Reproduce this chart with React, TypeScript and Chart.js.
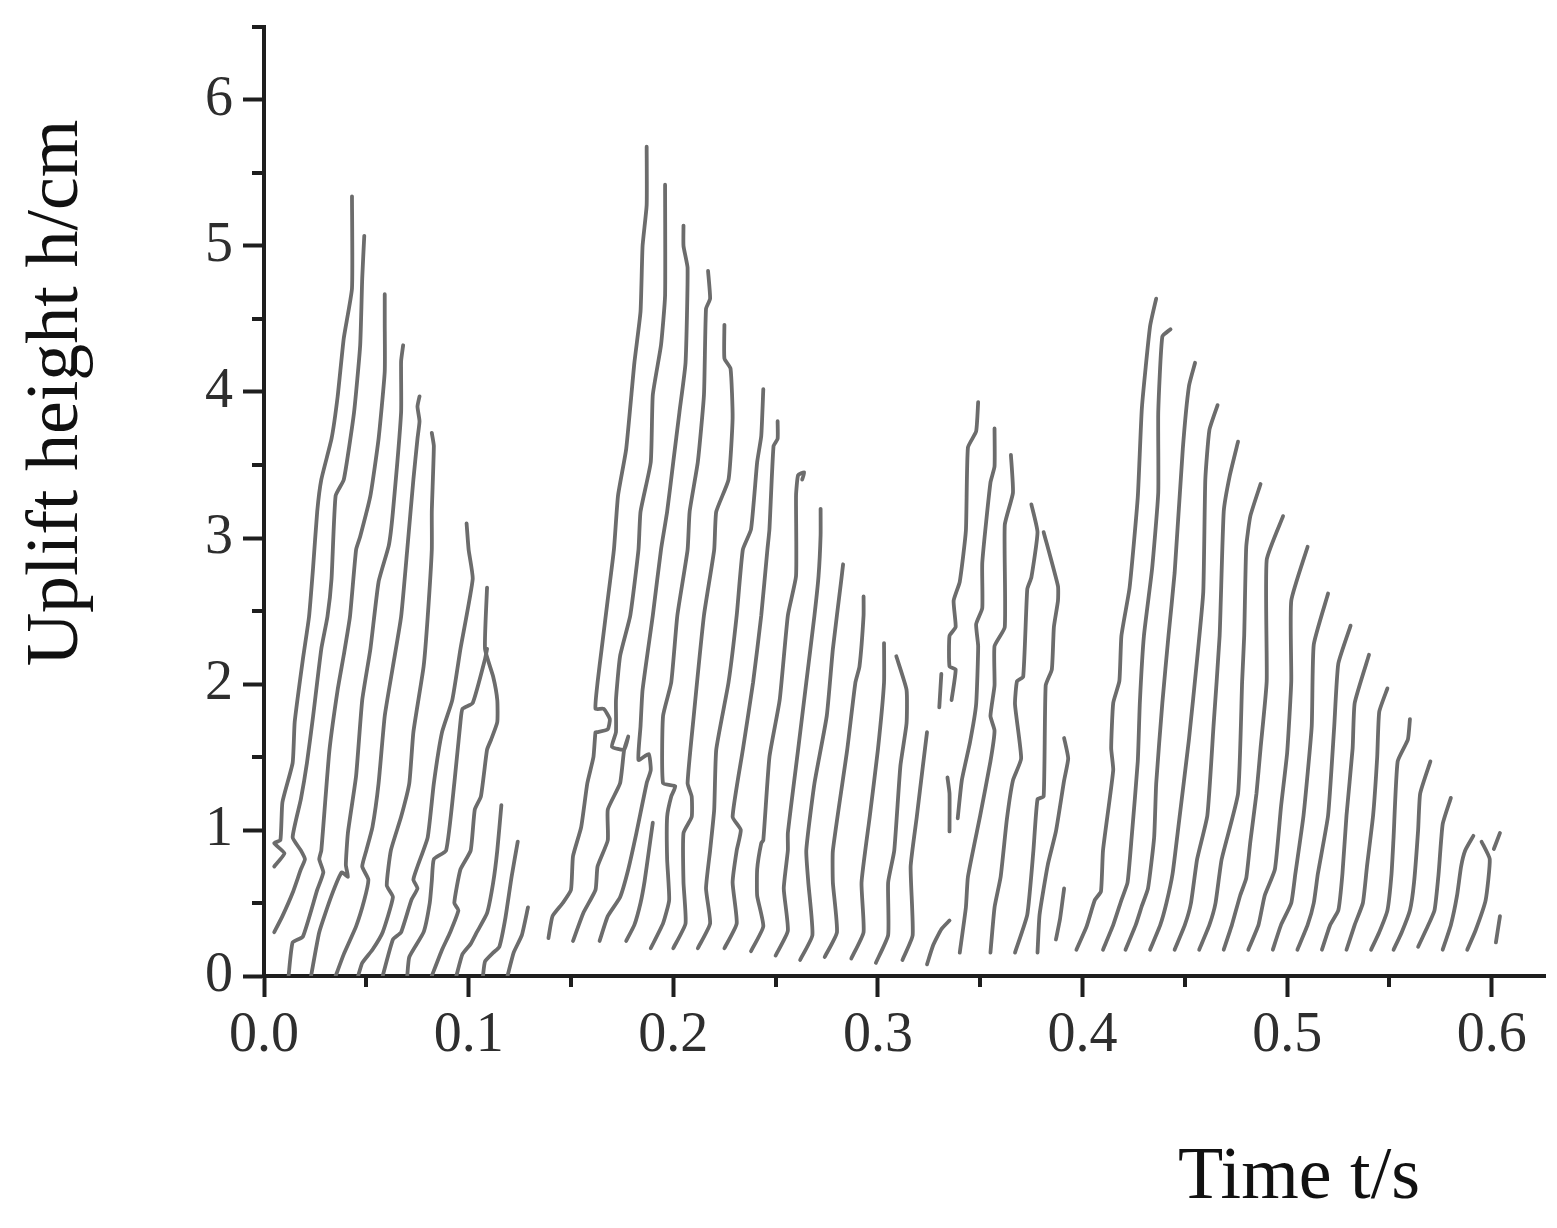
import React, { useEffect, useRef } from 'react';
import { Chart, registerables } from 'chart.js';

Chart.register(...registerables);

// ---------------- data ----------------
const xTickLabels = ['0.0', '0.1', '0.2', '0.3', '0.4', '0.5', '0.6'];
const yTickLabels = ['0', '1', '2', '3', '4', '5', '6'];
const xMinorTicks = [0.05, 0.15, 0.25, 0.35, 0.45, 0.55];
const yMinorTicks = [0.5, 1.5, 2.5, 3.5, 4.5, 5.5, 6.5];
const xAxisTitle = 'Time t/s';
const yAxisTitle = 'Uplift height h/cm';

// each track: list of [time t (s), uplift height h (cm)]
const wave1Tracks: number[][][] = [
  [[0.005,0.75],[0.010,0.84],[0.005,0.91],[0.008,0.93],[0.009,1.19],[0.014,1.46],[0.015,1.74],[0.019,2.17],[0.022,2.46],[0.024,2.8],[0.026,3.18],[0.028,3.40],[0.033,3.68],[0.036,3.97],[0.039,4.37],[0.043,4.71],[0.043,5.34]],
  [[0.005,0.30],[0.009,0.41],[0.014,0.57],[0.018,0.73],[0.020,0.80],[0.018,0.86],[0.014,0.95],[0.018,1.21],[0.021,1.46],[0.024,1.78],[0.028,2.24],[0.031,2.46],[0.033,2.72],[0.035,3.29],[0.039,3.40],[0.044,3.86],[0.047,4.32],[0.048,4.78],[0.049,5.07]],
  [[0.012,0.0],[0.014,0.23],[0.019,0.27],[0.026,0.59],[0.029,0.71],[0.027,0.80],[0.028,0.86],[0.030,1.21],[0.032,1.55],[0.036,1.96],[0.039,2.2],[0.042,2.46],[0.045,2.92],[0.047,3.01],[0.052,3.29],[0.056,3.68],[0.059,4.14],[0.059,4.48],[0.059,4.67]],
  [[0.023,0.0],[0.027,0.3],[0.033,0.55],[0.038,0.71],[0.041,0.68],[0.040,0.76],[0.041,0.98],[0.045,1.37],[0.048,1.89],[0.052,2.24],[0.056,2.7],[0.061,2.95],[0.063,3.18],[0.067,3.86],[0.067,4.21],[0.068,4.32]],
  [[0.035,0.0],[0.039,0.15],[0.045,0.34],[0.049,0.52],[0.051,0.66],[0.048,0.75],[0.050,0.86],[0.053,1.02],[0.056,1.32],[0.059,1.78],[0.063,2.12],[0.067,2.46],[0.070,2.92],[0.073,3.40],[0.075,3.68],[0.076,3.8],[0.075,3.9],[0.076,3.97]],
  [[0.046,0.0],[0.048,0.09],[0.053,0.18],[0.058,0.3],[0.063,0.54],[0.060,0.62],[0.062,0.86],[0.067,1.09],[0.071,1.32],[0.073,1.67],[0.078,2.12],[0.080,2.46],[0.082,2.92],[0.082,3.18],[0.083,3.63],[0.082,3.72]],
  [[0.058,0.0],[0.063,0.25],[0.067,0.3],[0.072,0.52],[0.075,0.6],[0.073,0.66],[0.075,0.75],[0.080,0.95],[0.083,1.32],[0.087,1.67],[0.092,1.89],[0.096,2.24],[0.102,2.72],[0.100,2.92],[0.099,3.1]],
  [[0.070,0.0],[0.071,0.13],[0.078,0.3],[0.081,0.5],[0.082,0.65],[0.083,0.8],[0.089,0.86],[0.093,1.32],[0.096,1.74],[0.097,1.83],[0.102,1.87],[0.108,2.17],[0.109,2.24]],
  [[0.082,0.0],[0.087,0.18],[0.091,0.3],[0.095,0.45],[0.093,0.5],[0.096,0.73],[0.101,0.86],[0.103,1.14],[0.106,1.23],[0.109,1.55],[0.111,1.62],[0.114,1.74],[0.114,1.89],[0.112,2.05],[0.108,2.24],[0.109,2.66]],
  [[0.094,0.0],[0.097,0.15],[0.101,0.22],[0.104,0.3],[0.109,0.43],[0.112,0.64],[0.114,0.86],[0.116,1.17]],
  [[0.107,0.0],[0.108,0.1],[0.112,0.16],[0.115,0.2],[0.118,0.4],[0.121,0.68],[0.124,0.92]],
  [[0.119,0.0],[0.122,0.16],[0.126,0.28],[0.129,0.47]],
];

const wave2Tracks: number[][][] = [
  [[0.139,0.26],[0.141,0.41],[0.146,0.5],[0.150,0.59],[0.151,0.82],[0.155,1.02],[0.158,1.32],[0.161,1.5],[0.162,1.67],[0.163,1.67],[0.168,1.69],[0.169,1.76],[0.166,1.83],[0.162,1.83],[0.163,2.01],[0.165,2.24],[0.168,2.58],[0.171,2.92],[0.173,3.29],[0.177,3.61],[0.181,4.2],[0.184,4.55],[0.185,5.0],[0.187,5.28],[0.187,5.68]],
  [[0.151,0.24],[0.156,0.43],[0.162,0.59],[0.163,0.75],[0.168,0.93],[0.168,1.14],[0.174,1.32],[0.176,1.55],[0.178,1.64],[0.176,1.55],[0.170,1.57],[0.172,1.67],[0.172,1.89],[0.174,2.19],[0.179,2.47],[0.183,2.92],[0.184,3.18],[0.189,3.52],[0.190,3.98],[0.194,4.32],[0.196,4.66],[0.196,5.42]],
  [[0.164,0.24],[0.168,0.41],[0.174,0.54],[0.178,0.73],[0.182,0.98],[0.187,1.32],[0.189,1.41],[0.188,1.52],[0.183,1.48],[0.184,1.71],[0.185,1.96],[0.190,2.47],[0.194,2.92],[0.197,3.18],[0.200,3.52],[0.203,3.86],[0.206,4.2],[0.207,4.85],[0.205,5.0],[0.205,5.14]],
  [[0.177,0.24],[0.181,0.35],[0.184,0.5],[0.186,0.65],[0.188,0.85],[0.190,1.05]],
  [[0.189,0.19],[0.195,0.36],[0.198,0.52],[0.197,0.8],[0.197,1.09],[0.199,1.23],[0.201,1.30],[0.195,1.32],[0.195,1.78],[0.199,2.01],[0.202,2.47],[0.207,2.92],[0.208,3.18],[0.212,3.52],[0.215,3.98],[0.216,4.57],[0.218,4.64],[0.217,4.83]],
  [[0.200,0.19],[0.206,0.36],[0.205,0.64],[0.205,0.98],[0.209,1.09],[0.209,1.23],[0.207,1.32],[0.210,1.78],[0.215,2.47],[0.220,2.92],[0.221,3.18],[0.227,3.40],[0.229,3.82],[0.228,4.16],[0.225,4.23],[0.225,4.46]],
  [[0.212,0.19],[0.218,0.36],[0.216,0.6],[0.218,0.86],[0.220,1.14],[0.221,1.55],[0.227,2.01],[0.231,2.47],[0.234,2.92],[0.238,3.06],[0.241,3.52],[0.243,3.70],[0.244,4.02]],
  [[0.225,0.19],[0.231,0.36],[0.229,0.64],[0.231,0.86],[0.233,1.0],[0.229,1.09],[0.234,1.55],[0.239,2.01],[0.243,2.47],[0.246,2.92],[0.247,3.06],[0.249,3.63],[0.251,3.68],[0.251,3.80]],
  [[0.238,0.17],[0.244,0.34],[0.241,0.55],[0.241,0.73],[0.243,0.91],[0.244,0.93],[0.247,1.5],[0.252,1.89],[0.256,2.47],[0.260,2.74],[0.260,3.29],[0.261,3.43],[0.264,3.45],[0.263,3.40]],
  [[0.250,0.14],[0.256,0.31],[0.254,0.6],[0.256,0.86],[0.256,0.98],[0.261,1.55],[0.265,2.01],[0.269,2.47],[0.271,2.74],[0.272,3.02],[0.272,3.20]],
  [[0.262,0.11],[0.268,0.28],[0.266,0.64],[0.265,0.86],[0.269,1.32],[0.275,1.78],[0.278,2.24],[0.282,2.7],[0.283,2.82]],
  [[0.274,0.13],[0.280,0.3],[0.278,0.64],[0.278,0.86],[0.285,1.55],[0.289,2.01],[0.291,2.12],[0.293,2.47],[0.293,2.60]],
  [[0.287,0.12],[0.293,0.3],[0.292,0.64],[0.296,1.09],[0.300,1.55],[0.303,2.01],[0.303,2.28]],
  [[0.299,0.09],[0.305,0.28],[0.305,0.64],[0.308,0.86],[0.311,1.44],[0.314,1.73],[0.314,1.96],[0.309,2.19]],
  [[0.312,0.11],[0.317,0.28],[0.316,0.75],[0.319,1.09],[0.322,1.44],[0.324,1.67]],
];

const wave3Tracks: number[][][] = [
  [[0.330,1.84],[0.331,2.07]],
  [[0.336,1.89],[0.338,2.10],[0.335,2.12],[0.335,2.33],[0.338,2.39],[0.337,2.57],[0.340,2.70],[0.343,3.05],[0.344,3.62],[0.348,3.73],[0.349,3.93]],
  [[0.334,1.36],[0.335,1.25],[0.335,0.99]],
  [[0.324,0.08],[0.327,0.21],[0.331,0.32],[0.335,0.38]],
  [[0.339,1.08],[0.341,1.34],[0.345,1.60],[0.348,1.86],[0.349,2.26],[0.348,2.41],[0.351,2.52],[0.351,2.83],[0.355,3.38],[0.357,3.49],[0.357,3.75]],
  [[0.340,0.16],[0.343,0.47],[0.344,0.68],[0.350,1.10],[0.355,1.47],[0.357,1.68],[0.355,1.78],[0.357,1.99],[0.357,2.26],[0.362,2.39],[0.362,3.09],[0.366,3.31],[0.365,3.57]],
  [[0.355,0.16],[0.357,0.47],[0.360,0.68],[0.363,1.07],[0.366,1.34],[0.370,1.49],[0.367,1.86],[0.368,2.02],[0.371,2.05],[0.373,2.65],[0.375,2.73],[0.378,3.04],[0.375,3.23]],
  [[0.367,0.16],[0.373,0.42],[0.376,0.86],[0.378,1.21],[0.381,1.23],[0.382,1.99],[0.385,2.10],[0.386,2.39],[0.388,2.57],[0.388,2.67],[0.381,3.04]],
  [[0.378,0.16],[0.379,0.42],[0.383,0.76],[0.387,0.99],[0.391,1.34],[0.393,1.49],[0.391,1.63]],
  [[0.387,0.25],[0.389,0.39],[0.391,0.60]],
];

const wave4Tracks: number[][][] = [
  [[0.397,0.18],[0.402,0.34],[0.406,0.52],[0.409,0.58],[0.410,0.86],[0.415,1.41],[0.414,1.56],[0.415,1.87],[0.418,2.02],[0.419,2.33],[0.423,2.66],[0.427,3.28],[0.429,3.89],[0.433,4.45],[0.436,4.64]],
  [[0.410,0.18],[0.415,0.35],[0.419,0.52],[0.422,0.64],[0.424,0.95],[0.427,1.47],[0.428,1.87],[0.430,2.33],[0.434,2.79],[0.437,3.31],[0.437,3.86],[0.439,4.38],[0.443,4.43]],
  [[0.421,0.18],[0.426,0.35],[0.429,0.48],[0.432,0.6],[0.435,0.95],[0.436,1.32],[0.439,1.87],[0.442,2.33],[0.445,2.76],[0.449,3.61],[0.452,4.04],[0.455,4.20]],
  [[0.433,0.18],[0.438,0.35],[0.441,0.5],[0.444,0.7],[0.447,1.04],[0.452,1.62],[0.456,2.17],[0.459,2.63],[0.460,3.40],[0.462,3.74],[0.466,3.91]],
  [[0.445,0.18],[0.450,0.35],[0.453,0.5],[0.456,0.8],[0.461,1.10],[0.464,1.71],[0.467,2.33],[0.469,3.18],[0.472,3.43],[0.476,3.66]],
  [[0.457,0.18],[0.462,0.35],[0.465,0.5],[0.468,0.8],[0.476,1.25],[0.478,2.02],[0.479,2.33],[0.480,2.94],[0.482,3.15],[0.487,3.37]],
  [[0.469,0.18],[0.473,0.35],[0.477,0.55],[0.480,0.67],[0.482,0.92],[0.485,1.25],[0.487,1.56],[0.490,2.02],[0.490,2.85],[0.498,3.15]],
  [[0.481,0.18],[0.486,0.35],[0.489,0.55],[0.494,0.73],[0.497,1.16],[0.500,1.53],[0.502,2.02],[0.502,2.57],[0.510,2.94]],
  [[0.493,0.18],[0.497,0.35],[0.502,0.5],[0.504,0.7],[0.508,1.10],[0.512,1.71],[0.513,2.27],[0.520,2.62]],
  [[0.505,0.18],[0.510,0.35],[0.513,0.5],[0.515,0.7],[0.520,1.10],[0.523,1.71],[0.525,2.14],[0.531,2.40]],
  [[0.517,0.18],[0.521,0.35],[0.525,0.45],[0.527,0.7],[0.529,1.10],[0.532,1.56],[0.533,1.87],[0.540,2.20]],
  [[0.529,0.18],[0.533,0.35],[0.537,0.5],[0.539,0.75],[0.542,1.10],[0.544,1.5],[0.545,1.81],[0.549,1.97]],
  [[0.541,0.18],[0.545,0.3],[0.549,0.45],[0.551,0.7],[0.552,0.95],[0.554,1.47],[0.559,1.62],[0.560,1.76]],
  [[0.552,0.18],[0.556,0.3],[0.560,0.45],[0.562,0.64],[0.564,1.0],[0.565,1.25],[0.570,1.47]],
  [[0.564,0.2],[0.568,0.32],[0.572,0.45],[0.574,0.7],[0.576,1.04],[0.580,1.22]],
  [[0.576,0.18],[0.580,0.35],[0.583,0.55],[0.585,0.75],[0.587,0.86],[0.591,0.96]],
  [[0.588,0.18],[0.592,0.31],[0.597,0.52],[0.599,0.80],[0.595,0.92]],
  [[0.601,0.87],[0.604,0.98]],
  [[0.602,0.23],[0.604,0.41]],
];

const xMin = 0;
const xMax = 0.626;
const yMin = 0;
const yMax = 6.5;

// ---------------- styling ----------------
const STROKE = '#6c6c6c';
const AXIS = '#1e1e1e';
const LABEL = '#2e2e2e';
const SERIF = '"Liberation Serif", "Times New Roman", serif';

const decorPlugin = {
  id: 'decor',
  afterDraw(chart: any) {
    const { ctx, chartArea, scales } = chart;
    const xs = scales.x;
    const ys = scales.y;
    ctx.save();
    ctx.strokeStyle = AXIS;
    ctx.lineWidth = 4;
    ctx.lineCap = 'butt';
    ctx.beginPath();
    xMinorTicks.forEach((v) => {
      const px = Math.round(xs.getPixelForValue(v));
      ctx.moveTo(px, chartArea.bottom);
      ctx.lineTo(px, chartArea.bottom + 11);
    });
    yMinorTicks.forEach((v) => {
      const py = Math.round(ys.getPixelForValue(v));
      ctx.moveTo(chartArea.left - 12, py);
      ctx.lineTo(chartArea.left, py);
    });
    ctx.stroke();

    ctx.fillStyle = '#111';
    ctx.font = `74px ${SERIF}`;
    ctx.textAlign = 'center';
    ctx.textBaseline = 'alphabetic';
    ctx.fillText(xAxisTitle, 1299, 1198);
    ctx.translate(77, 393);
    ctx.rotate(-Math.PI / 2);
    ctx.fillText(yAxisTitle, 0, 0);
    ctx.restore();
  },
};

export default function App() {
  const canvasRef = useRef<HTMLCanvasElement | null>(null);

  useEffect(() => {
    if (!canvasRef.current) return;
    const allTracks = [...wave1Tracks, ...wave2Tracks, ...wave3Tracks, ...wave4Tracks];
    const datasets = allTracks.map((track) => ({
      data: track.map(([x, y]) => ({ x, y })),
      showLine: true,
      borderColor: STROKE,
      borderWidth: 3.8,
      pointRadius: 0,
      pointHoverRadius: 0,
      tension: 0.15,
      fill: false,
      borderCapStyle: 'round' as const,
      borderJoinStyle: 'round' as const,
    }));

    const chart = new Chart(canvasRef.current, {
      type: 'scatter',
      data: { datasets },
      plugins: [decorPlugin],
      options: {
        animation: false,
        responsive: false,
        events: [],
        layout: { padding: { top: 27, right: 12, left: 0, bottom: 0 } },
        plugins: { legend: { display: false }, tooltip: { enabled: false } },
        scales: {
          x: {
            type: 'linear',
            min: xMin,
            max: xMax,
            afterFit: (s: any) => { s.height = 252; s.paddingLeft = 0; s.paddingRight = 0; },
            border: { display: true, color: AXIS, width: 4 },
            grid: { display: true, drawOnChartArea: false, drawTicks: true, tickLength: 21, tickWidth: 4, tickColor: AXIS },
            ticks: {
              stepSize: 0.1,
              includeBounds: false,
              maxRotation: 0,
              autoSkip: false,
              padding: 6,
              color: LABEL,
              font: { family: SERIF, size: 56 },
              callback: (v: any) => xTickLabels[Math.round(Number(v) * 10)] ?? '',
            },
          },
          y: {
            type: 'linear',
            min: yMin,
            max: yMax,
            afterFit: (s: any) => { s.width = 264; s.paddingTop = 0; s.paddingBottom = 0; },
            border: { display: true, color: AXIS, width: 4 },
            grid: { display: true, drawOnChartArea: false, drawTicks: true, tickLength: 21, tickWidth: 4, tickColor: AXIS },
            ticks: {
              stepSize: 1,
              includeBounds: false,
              autoSkip: false,
              padding: 10,
              color: LABEL,
              font: { family: SERIF, size: 56 },
              callback: (v: any) => yTickLabels[Math.round(Number(v))] ?? '',
            },
          },
        },
      },
    });
    return () => chart.destroy();
  }, []);

  return (
    <div style={{ position: 'absolute', left: 0, top: 0, width: 1557, height: 1228, background: '#fff' }}>
      <canvas ref={canvasRef} width={1557} height={1228} style={{ display: 'block' }} />
    </div>
  );
}
